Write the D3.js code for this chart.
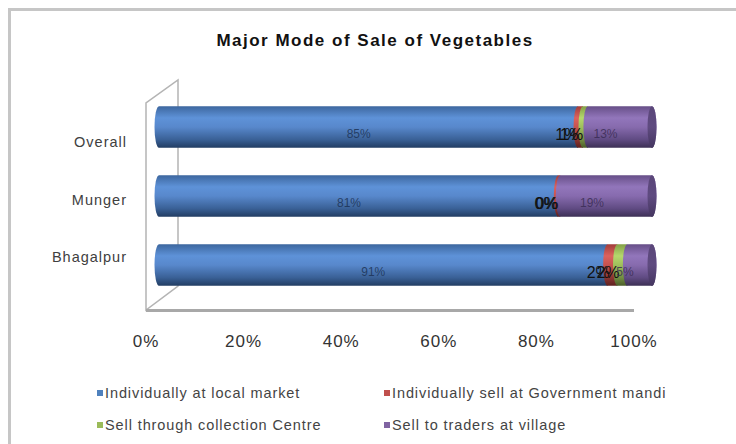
<!DOCTYPE html>
<html><head><meta charset="utf-8">
<script src="https://cdn.jsdelivr.net/npm/d3@7"></script>
<style>body{margin:0;background:#fff}svg{display:block;font-family:"Liberation Sans",Arial,sans-serif}</style>
</head><body><svg id="c" width="736" height="444"></svg>
<script>
const categories = ["Overall", "Munger", "Bhagalpur"];
const seriesNames = ["Individually at local market", "Individually sell at Government mandi", "Sell through collection Centre", "Sell to traders at village"];
const localMarket = [85, 81, 91];
const govMandi = [1, 0.4, 2];
const collectionCentre = [1, 0, 2];
const tradersVillage = [13, 18.6, 5];
const tickLabels = ["0%", "20%", "40%", "60%", "80%", "100%"];
const tickValues = [0, 20, 40, 60, 80, 100];
const seriesColors = ["#4f81bd", "#c0504d", "#9bbb59", "#8064a2"];

const svg = d3.select("#c");
const W = 736, H = 444;
const defs = svg.append("defs");

const grads = [
  ["#3d679f", "#5e92d8", "#5888cc", "#3a6197", "#223d63"],
  ["#a23d3a", "#dc625e", "#c6524f", "#8e3633", "#5e2220"],
  ["#83a047", "#b5d86c", "#9fbf5c", "#748f42", "#4c5e2b"],
  ["#674f88", "#9276bb", "#876bae", "#604b83", "#3d3055"]
];
grads.forEach((g, i) => {
  const lg = defs.append("linearGradient").attr("id", "g" + i).attr("x1", 0).attr("y1", 0).attr("x2", 0).attr("y2", 1);
  [0, 0.28, 0.5, 0.8, 1].forEach((o, k) => lg.append("stop").attr("offset", o).attr("stop-color", g[k]));
});
const capG = defs.append("linearGradient").attr("id", "cap").attr("x1", 0).attr("y1", 0).attr("x2", 0).attr("y2", 1);
[["0", "#5a4679"], ["0.5", "#5f4b80"], ["1", "#453660"]].forEach(s => capG.append("stop").attr("offset", s[0]).attr("stop-color", s[1]));

// outer frame
svg.append("path").attr("d", `M9.5,${H} L9.5,9.5 L${W},9.5`).attr("fill", "none").attr("stroke", "#c6c6c6").attr("stroke-width", 3);

// title
svg.append("text").attr("x", 375).attr("y", 46).attr("text-anchor", "middle")
  .attr("font-size", 17).attr("letter-spacing", 1.5).attr("font-weight", "bold").attr("fill", "#111").text("Major Mode of Sale of Vegetables");

// scales
const xBar = d3.scaleLinear().domain([0, 100]).range([159, 652]);
const xLab = d3.scaleLinear().domain([0, 100]).range([153, 637]);
const xFront = d3.scaleLinear().domain([0, 100]).range([146, 634]);
const yBar = d3.scaleBand().domain(categories).range([92.5, 299.5]).paddingInner(0.4).paddingOuter(0.2);
const yCat = d3.scalePoint().domain(categories).range([142, 257]);

// 3D wall
const wall = svg.append("g").attr("fill", "none").attr("stroke", "#b4b4b4").attr("stroke-width", 1.5);
wall.append("path").attr("d", `M178,80 L178,286 L146,310 L146,103 Z`);
svg.append("line").attr("x1", xFront(0)).attr("x2", xFront(100)).attr("y1", 310.5).attr("y2", 310.5)
  .attr("stroke", "#a8a8a8").attr("stroke-width", 3);

// category labels
svg.append("g").selectAll("text").data(categories).join("text")
  .attr("x", 127).attr("y", d => yCat(d) + 5).attr("text-anchor", "end")
  .attr("font-size", 14.5).attr("letter-spacing", 1).attr("fill", "#404040").text(d => d);

// x axis labels
svg.append("g").selectAll("text").data(tickValues).join("text")
  .attr("x", d => xFront(d)).attr("y", 347).attr("text-anchor", "middle")
  .attr("font-size", 17).attr("letter-spacing", 1).attr("fill", "#333").text((d, i) => tickLabels[i]);

// bars
const series = [localMarket, govMandi, collectionCentre, tradersVillage];
const rx = 4.5;
const bars = svg.append("g");
categories.forEach((cat, ci) => {
  const h = yBar.bandwidth();
  const top = yBar(cat), bot = top + h, cy = top + h / 2;
  let cum = 0;
  const segs = series.map((s, si) => { const v = s[ci]; const seg = {si, v, a: cum, b: cum + v}; cum += v; return seg; });
  segs.forEach((sg, k) => {
    const x0 = xBar(sg.a), x1 = xBar(sg.b);
    const last = k === segs.length - 1;
    let d = `M${x1},${top} L${x0},${top} A${rx},${h / 2} 0 0 0 ${x0},${bot} L${x1},${bot}`;
    if (last) d += ` A${rx},${h / 2} 0 0 0 ${x1},${top}`;
    d += " Z";
    if (sg.v > 0) bars.append("path").attr("d", d).attr("fill", `url(#g${sg.si})`);
    if (last) bars.append("ellipse").attr("cx", x1).attr("cy", cy).attr("rx", rx).attr("ry", h / 2).attr("fill", "url(#cap)");
  });
  // labels
  segs.forEach(sg => {
    const small = sg.v < 3;
    const mid = (sg.a + sg.b) / 2;
    bars.append("text").attr("x", xLab(mid)).attr("y", cy + (small ? 13 : 11))
      .attr("text-anchor", "middle")
      .attr("font-size", small ? 16 : 12)
      .attr("fill", small ? "#111" : (sg.si === 0 ? "#1d3457" : "#3b2d55"))
      .attr("fill-opacity", small ? 1 : 0.85)
      .text(Math.round(sg.v) + "%");
  });
});

// legend
const legPos = [[97, 393], [384, 393], [97, 425], [384, 425]];
const leg = svg.append("g");
seriesNames.forEach((n, i) => {
  leg.append("rect").attr("x", legPos[i][0]).attr("y", legPos[i][1] - 3).attr("width", 6).attr("height", 6).attr("fill", seriesColors[i]);
  leg.append("text").attr("x", legPos[i][0] + 8).attr("y", legPos[i][1] + 5).attr("font-size", 14.5)
    .attr("letter-spacing", 0.9).attr("fill", "#444").text(n);
});
</script></body></html>
